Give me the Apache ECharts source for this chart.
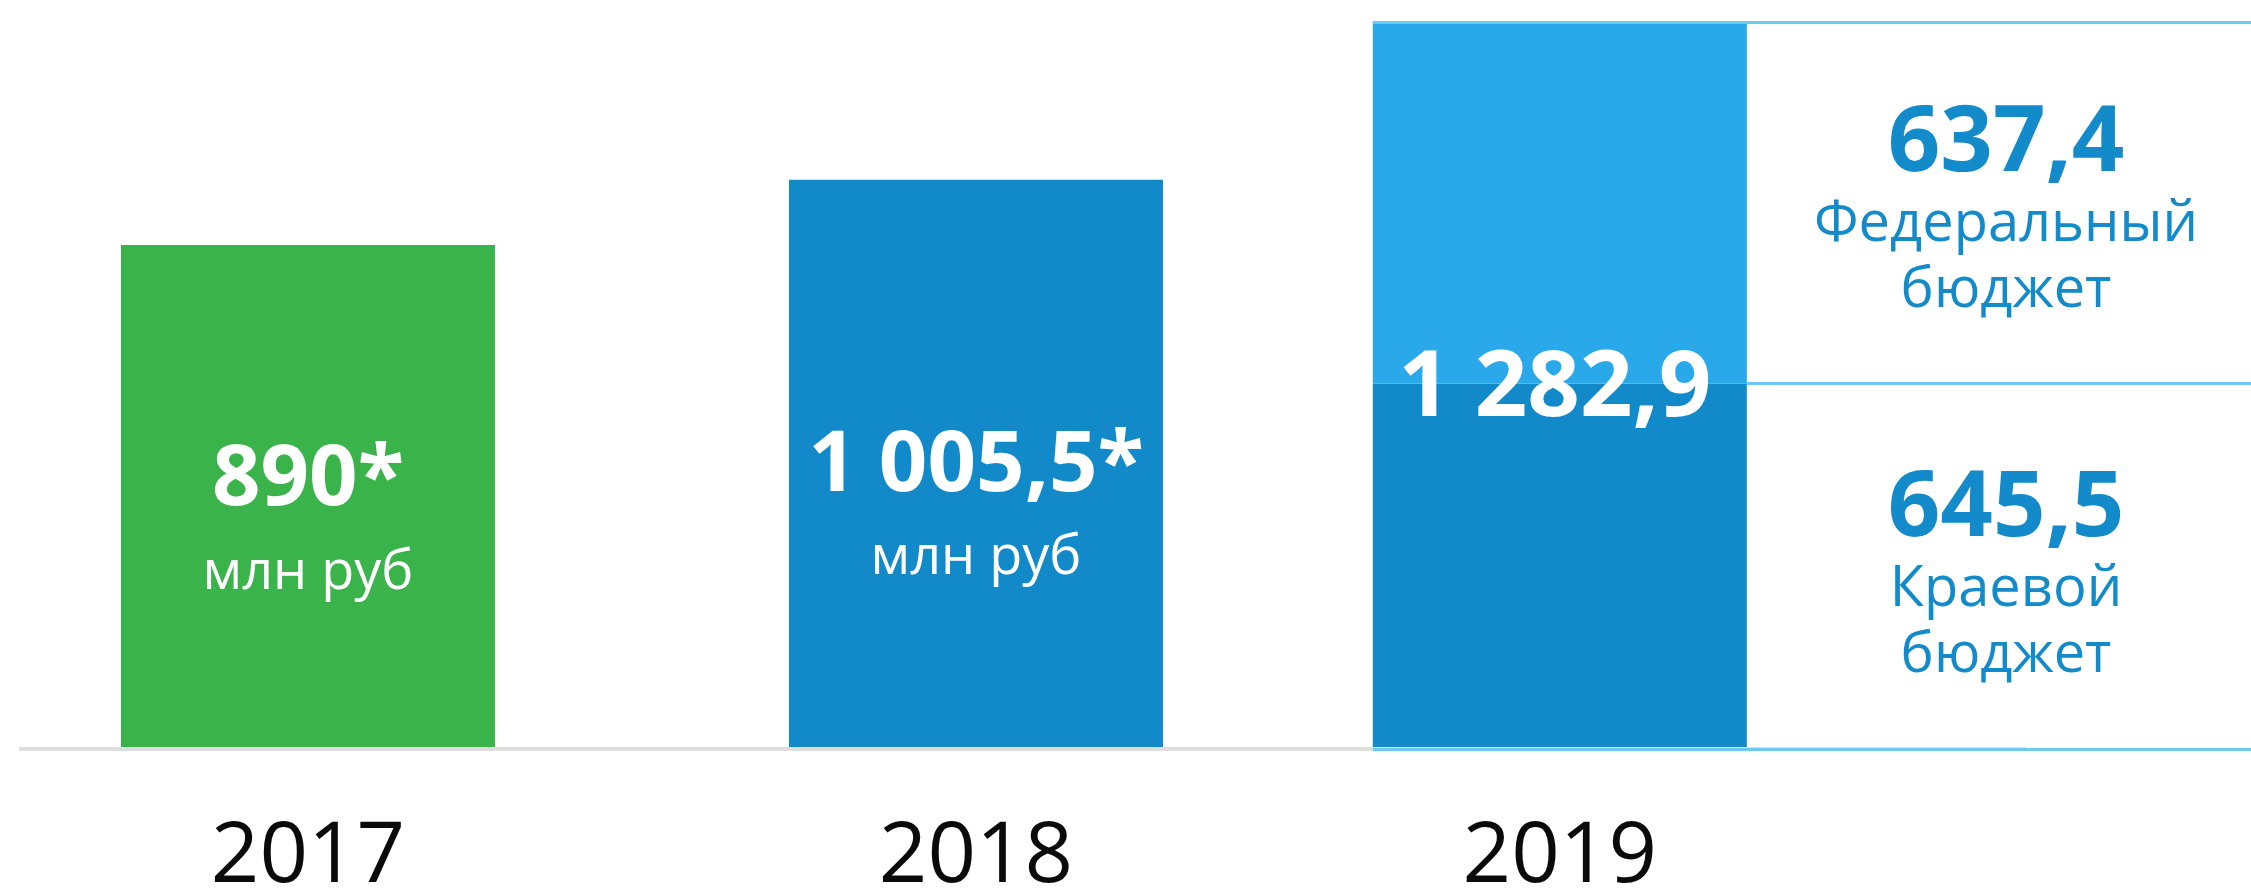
<!DOCTYPE html>
<html>
<head>
<meta charset="utf-8">
<script src="https://cdn.jsdelivr.net/npm/echarts@6/dist/echarts.min.js"></script>
<style>
  html, body { margin: 0; padding: 0; background: #ffffff; }
  #chart { width: 2251px; height: 888px; }
</style>
</head>
<body>
<div id="chart"></div>
<script>
// Financing by year, million roubles
const years = ['2017', '2018', '2019'];
const singleTotals = [890, 1005.5];          // 2017, 2018
const totalNotes = ['*', '*'];               // footnote marks after the value
const federal2019 = 637.4;                   // Федеральный бюджет
const regional2019 = 645.5;                  // Краевой бюджет
const unitText = 'млн руб';
const federalCaption = ['Федеральный', 'бюджет'];
const regionalCaption = ['Краевой', 'бюджет'];

// ---- layout (axis units: one unit = distance between the 2017 and 2018 columns)
const FONT = '"Open Sans", "Noto Sans", sans-serif';
const columnSlots = [0, 1, 1.874];
const X_MIN = -0.4326;
const X_MAX = 2.9087;          // right edge of the side panel
const BASELINE_END = 2.572;    // where the grey baseline stops
const PANEL_CENTER = 2.542;
const BAR_WIDTH = 374;
const GRID = { left: 19, right: 0, top: 13, bottom: 139, outerBoundsMode: 'none', containLabel: false };

const COLORS = {
  green: '#3BB34B',
  blue: '#128ACA',
  lightBlue: '#2AA9EA',
  rule: '#6FC7F3',
  axis: '#DEDEDE',
  panelText: '#138ACA'
};

function fmt(v) {
  const r = Math.round(v * 10) / 10;
  const [i, d] = String(r).split('.');
  const int = i.replace(/\B(?=(\d{3})+(?!\d))/g, ' ');
  return d ? int + ',' + d : int;
}

const chart = echarts.init(document.getElementById('chart'), null, { renderer: 'canvas' });

const gridWidth = 2251 - GRID.left - GRID.right;
const pxPerSlot = gridWidth / (X_MAX - X_MIN);
const halfBar = BAR_WIDTH / 2 / pxPerSlot;
const total2019 = Math.round((federal2019 + regional2019) * 10) / 10;
const slot2019 = columnSlots[2];

const mainColors = [COLORS.green, COLORS.blue];
const labelTops = [186, 237];

const mainData = singleTotals.map((v, i) => ({
  value: [columnSlots[i], v],
  itemStyle: { color: mainColors[i] },
  label: { position: ['50%', labelTops[i]] }
}));

const panelRich = {
  n: { fontFamily: FONT, fontWeight: 700, fontSize: 92, lineHeight: 94, color: COLORS.panelText },
  t: { fontFamily: FONT, fontWeight: 400, fontSize: 56, lineHeight: 66, color: COLORS.panelText }
};
const panelLabel = (value, caption) =>
  `{n|${fmt(value)}}\n` + caption.map(c => `{t|${c}}`).join('\n');

// the 2019 column is a stack; its rows are written value-first so the stack runs along y
const stackEncode = { x: 1, y: 0 };

const option = {
  animation: false,
  backgroundColor: '#ffffff',
  grid: GRID,
  xAxis: {
    type: 'value',
    min: X_MIN,
    max: X_MAX,
    axisLine: { show: false },
    axisTick: { show: false },
    splitLine: { show: false },
    axisLabel: {
      customValues: columnSlots,
      margin: 66,
      fontFamily: FONT,
      fontSize: 85,
      color: '#0A0A0A',
      formatter: (val) => {
        const idx = columnSlots.findIndex(s => Math.abs(s - val) < 1e-6);
        return idx >= 0 ? years[idx] : '';
      }
    }
  },
  yAxis: {
    type: 'value',
    min: 0,
    max: 1300,
    show: false,
    splitLine: { show: false }
  },
  series: [
    {
      name: 'total',
      type: 'bar',
      barWidth: BAR_WIDTH,
      barGap: '-100%',
      data: mainData,
      label: {
        show: true,
        align: 'center',
        verticalAlign: 'top',
        formatter: p => `{v|${fmt(singleTotals[p.dataIndex])}${totalNotes[p.dataIndex]}}\n{u|${unitText}}`,
        rich: {
          v: { fontFamily: FONT, fontWeight: 700, fontSize: 85, lineHeight: 100, color: '#ffffff' },
          u: { fontFamily: FONT, fontWeight: 400, fontSize: 54, lineHeight: 84, color: '#ffffff' }
        }
      },
      markLine: {
        silent: true,
        symbol: ['none', 'none'],
        label: { show: false },
        lineStyle: { color: COLORS.axis, width: 4, type: 'solid' },
        data: [[{ coord: [X_MIN, 0] }, { coord: [BASELINE_END, 0] }]]
      }
    },
    {
      name: 'Краевой бюджет',
      type: 'bar',
      stack: 'y2019',
      barWidth: BAR_WIDTH,
      barGap: '-100%',
      itemStyle: { color: COLORS.blue },
      encode: stackEncode,
      data: [[regional2019, slot2019]],
      markPoint: {
        silent: true,
        symbol: 'circle',
        symbolSize: 0,
        data: [
          {
            coord: [slot2019, regional2019],
            label: {
              show: true,
              position: 'inside',
              offset: [-5, 6],
              formatter: () => fmt(total2019),
              fontFamily: FONT,
              fontWeight: 700,
              fontSize: 92,
              color: '#ffffff'
            }
          },
          {
            coord: [PANEL_CENTER, regional2019 / 2],
            label: {
              show: true,
              position: 'inside',
              offset: [0, 10],
              formatter: () => panelLabel(regional2019, regionalCaption),
              rich: panelRich
            }
          }
        ]
      }
    },
    {
      name: 'Федеральный бюджет',
      type: 'bar',
      stack: 'y2019',
      barWidth: BAR_WIDTH,
      barGap: '-100%',
      itemStyle: { color: COLORS.lightBlue },
      encode: stackEncode,
      data: [[federal2019, slot2019]],
      markPoint: {
        silent: true,
        symbol: 'circle',
        symbolSize: 0,
        data: [
          {
            coord: [PANEL_CENTER, regional2019 + federal2019 / 2],
            label: {
              show: true,
              position: 'inside',
              offset: [0, 8],
              formatter: () => panelLabel(federal2019, federalCaption),
              rich: panelRich
            }
          }
        ]
      },
      markLine: {
        silent: true,
        symbol: ['none', 'none'],
        label: { show: false },
        lineStyle: { color: COLORS.rule, width: 3, type: 'solid' },
        data: [
          [{ coord: [slot2019 - halfBar, total2019] }, { coord: [X_MAX, total2019] }],
          [{ coord: [slot2019 + halfBar, regional2019] }, { coord: [X_MAX, regional2019] }],
          [{ coord: [slot2019 - halfBar, 0] }, { coord: [X_MAX, 0] }]
        ]
      }
    }
  ]
};

chart.setOption(option);
</script>
</body>
</html>
